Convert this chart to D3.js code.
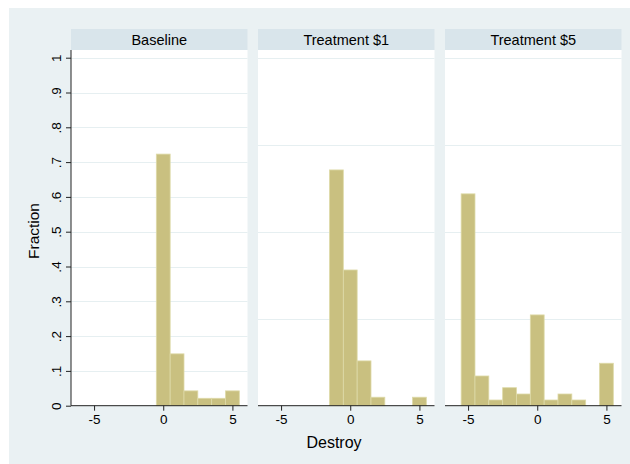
<!DOCTYPE html>
<html>
<head>
<meta charset="utf-8">
<script src="https://cdn.jsdelivr.net/npm/d3@7"></script>
<style>
  html, body { margin: 0; padding: 0; background: #ffffff; }
  svg { display: block; font-family: "Liberation Sans", Arial, sans-serif; }
</style>
</head>
<body>
<svg id="chart" width="630" height="464"></svg>
<script>
// ---- Data ----
const panelTitles = ["Baseline", "Treatment $1", "Treatment $5"];
// bin centres (Destroy value) and fractions, one array pair per panel
const baselineBins = [0, 1, 2, 3, 4, 5];
const baselineFrac = [0.723, 0.149, 0.0426, 0.0213, 0.0213, 0.0426];
const treat1Bins = [-1, 0, 1, 2, 5];
const treat1Frac = [0.542, 0.312, 0.103, 0.0195, 0.0195];
const treat5Bins = [-5, -4, -3, -2, -1, 0, 1, 2, 3, 5];
const treat5Frac = [0.487, 0.0683, 0.0131, 0.0414, 0.0269, 0.2087, 0.0131, 0.0269, 0.0131, 0.0976];
const xTicks = [-5, 0, 5];
const yTicksBaseline = [0, 0.1, 0.2, 0.3, 0.4, 0.5, 0.6, 0.7, 0.8, 0.9, 1];
const yTickLabels = ["0", ".1", ".2", ".3", ".4", ".5", ".6", ".7", ".8", ".9", "1"];
const yGridOther = [0.2, 0.4, 0.6, 0.8];
const yTopBaseline = 1.0;
const yTopOther = 0.8;
const xTitle = "Destroy";
const yTitle = "Fraction";

const panels = [
  { title: panelTitles[0], bins: baselineBins, frac: baselineFrac, yTop: yTopBaseline, grid: yTicksBaseline.slice(1) },
  { title: panelTitles[1], bins: treat1Bins, frac: treat1Frac, yTop: yTopOther, grid: yGridOther },
  { title: panelTitles[2], bins: treat5Bins, frac: treat5Frac, yTop: yTopOther, grid: yGridOther }
];

// ---- Layout ----
const svg = d3.select("#chart");
const W = 630, H = 464;
const bg = "#eaf1f3", strip = "#d9e5eb", grid = "#e6eff1";
const barFill = "#c9c080", barStroke = "#dedaa8";
const textCol = "#000";

svg.append("rect").attr("x", 0).attr("y", 0).attr("width", W).attr("height", H).attr("fill", "#ffffff");
svg.append("rect").attr("x", 9).attr("y", 8).attr("width", W - 9).attr("height", H - 8).attr("fill", bg);

const panelLeft = [71, 258, 445];
const panelW = 176.5;
const stripTop = 29, stripBottom = 50;
const plotTop = 50, plotBottom = 405.7;
const yRefPix = 57.7; // pixel position of yTop value

const x = d3.scaleLinear().domain([-6.667, 6.09]).range([0, panelW]);

panels.forEach((p, i) => {
  const g = svg.append("g").attr("transform", `translate(${panelLeft[i]},0)`);
  const y = d3.scaleLinear().domain([0, p.yTop]).range([plotBottom, yRefPix]);

  // header strip
  g.append("rect").attr("x", 0).attr("y", stripTop).attr("width", panelW).attr("height", stripBottom - stripTop).attr("fill", strip);
  g.append("text").attr("x", panelW / 2).attr("y", 44.5).attr("text-anchor", "middle")
    .attr("font-size", 14.5).attr("fill", textCol).text(p.title);

  // plot region
  g.append("rect").attr("x", 0).attr("y", plotTop).attr("width", panelW).attr("height", plotBottom - plotTop).attr("fill", "#ffffff");

  // gridlines
  g.selectAll("line.grid").data(p.grid).enter().append("line")
    .attr("x1", 0).attr("x2", panelW)
    .attr("y1", d => Math.round(y(d)) + 0.5).attr("y2", d => Math.round(y(d)) + 0.5)
    .attr("stroke", grid).attr("stroke-width", 1.2);

  // bars
  g.selectAll("rect.bar").data(p.bins.map((b, k) => ({ b, f: p.frac[k] }))).enter().append("rect")
    .attr("x", d => x(d.b - 0.5)).attr("width", d => x(d.b + 0.5) - x(d.b - 0.5))
    .attr("y", d => y(d.f)).attr("height", d => plotBottom - y(d.f))
    .attr("fill", barFill).attr("stroke", barStroke).attr("stroke-width", 0.8);

  // x axis
  const xa = d3.axisBottom(x).tickValues(xTicks).tickSize(5).tickPadding(4).tickFormat(d3.format("d"));
  const ax = g.append("g").attr("transform", `translate(0,${plotBottom})`).call(xa);
  ax.select(".domain").attr("stroke", "#222").attr("d", `M0,0H${panelW}`);
  ax.selectAll(".tick line").attr("stroke", "#222");
  ax.selectAll(".tick text").attr("font-size", 13.5).attr("fill", textCol)
    .attr("font-family", "'Liberation Sans', Arial, sans-serif")
    .text(d => d < 0 ? "-" + Math.abs(d) : String(d));

  if (i === 0) {
    const ya = d3.axisLeft(y).tickValues(yTicksBaseline).tickSize(5).tickPadding(0).tickFormat((d, k) => yTickLabels[k]);
    const ay = g.append("g").call(ya);
    ay.select(".domain").attr("stroke", "#222").attr("d", `M0,${plotTop}V${plotBottom}`);
    ay.selectAll(".tick line").attr("stroke", "#222");
    ay.selectAll(".tick text")
      .attr("font-size", 13.5).attr("fill", textCol)
      .attr("font-family", "'Liberation Sans', Arial, sans-serif")
      .attr("x", null).attr("dy", null)
      .attr("text-anchor", "middle")
      .attr("transform", "translate(-10,0) rotate(-90)");
  }
});

// axis titles
svg.append("text").attr("x", 334).attr("y", 448).attr("text-anchor", "middle")
  .attr("font-size", 16).attr("fill", textCol).text(xTitle);
svg.append("text").attr("transform", "translate(39,231) rotate(-90)").attr("text-anchor", "middle")
  .attr("font-size", 15.5).attr("fill", textCol).text(yTitle);
</script>
</body>
</html>
